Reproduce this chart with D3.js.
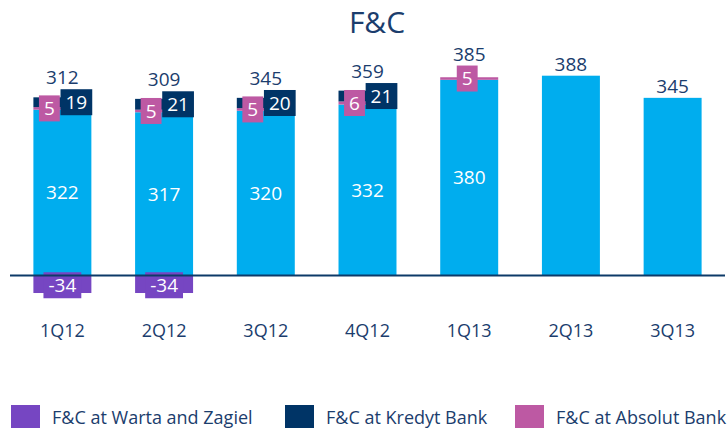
<!DOCTYPE html>
<html>
<head>
<meta charset="utf-8">
<script src="https://cdn.jsdelivr.net/npm/d3@7"></script>
<style>
  html, body { margin: 0; padding: 0; background: #fff; }
  svg { display: block; font-family: "Open Sans", sans-serif; }
</style>
</head>
<body>
<div id="chart"></div>
<script>
// Chart data
const categories = ["1Q12", "2Q12", "3Q12", "4Q12", "1Q13", "2Q13", "3Q13"];
const baseValues = [322, 317, 320, 332, 380, 388, 345];
const absolutValues = [5, 5, 5, 6, 5, 0, 0];
const kredytValues = [19, 21, 20, 21, 0, 0, 0];
const wartaValues = [-34, -34, 0, 0, 0, 0, 0];
const totals = [312, 309, 345, 359, 385, 388, 345];
const legendLabels = ["F&C at Warta and Zagiel", "F&C at Kredyt Bank", "F&C at Absolut Bank"];

const colors = {
    base: "#00adee",
    absolut: "#bd59a3",
    kredyt: "#003466",
    warta: "#7646c2",
    text: "#1b3d6d"
};

const width = 728, height = 428;

const svg = d3.select("#chart").append("svg")
    .attr("width", width)
    .attr("height", height);

const x = d3.scaleBand()
    .domain(categories)
    .range([10, 725])
    .paddingInner(0.43)
    .paddingOuter(0.23);

// zero sits at ~275.5, 388 at ~75.7
const y = d3.scaleLinear()
    .domain([0, 388])
    .range([275.5, 75.7]);

const rows = categories.map((c, i) => ({
    cat: c,
    base: baseValues[i],
    absolut: absolutValues[i],
    kredyt: kredytValues[i],
    warta: wartaValues[i],
    total: totals[i]
}));

// title
svg.append("text")
    .attr("x", 377)
    .attr("y", 33)
    .attr("text-anchor", "middle")
    .style("font-size", "30px")
    .style("fill", colors.text)
    .text("F&C");

const bars = svg.selectAll(".bar")
    .data(rows)
    .enter()
    .append("g")
    .attr("class", "bar")
    .attr("transform", d => `translate(${x(d.cat)},0)`);

const bw = x.bandwidth();

// main bar
bars.append("rect")
    .attr("x", 0)
    .attr("width", bw)
    .attr("y", d => y(d.base))
    .attr("height", d => y(0) - y(d.base))
    .style("fill", colors.base);

// absolut segment
bars.filter(d => d.absolut > 0).append("rect")
    .attr("x", 0)
    .attr("width", bw)
    .attr("y", d => y(d.base + d.absolut))
    .attr("height", d => y(d.base) - y(d.base + d.absolut))
    .style("fill", colors.absolut);

// kredyt segment
bars.filter(d => d.kredyt > 0).append("rect")
    .attr("x", 0)
    .attr("width", bw)
    .attr("y", d => y(d.base + d.absolut + d.kredyt))
    .attr("height", d => y(d.base + d.absolut) - y(d.base + d.absolut + d.kredyt))
    .style("fill", colors.kredyt);

// warta (negative) segment
bars.filter(d => d.warta < 0).append("rect")
    .attr("x", 0)
    .attr("width", bw)
    .attr("y", y(0))
    .attr("height", d => y(d.warta) - y(0))
    .style("fill", colors.warta);

// zero line
svg.append("line")
    .attr("x1", 10)
    .attr("x2", 725)
    .attr("y1", y(0))
    .attr("y2", y(0))
    .style("stroke", "#0d3a68")
    .style("stroke-width", 2);

// value inside main bar (only where the bar is split)
bars.filter(d => d.base !== d.total).append("text")
    .attr("x", bw / 2)
    .attr("y", d => (y(0) + y(d.base)) / 2)
    .attr("dy", "0.35em")
    .attr("text-anchor", "middle")
    .style("font-size", "19px")
    .style("fill", "#fff")
    .text(d => d.base);

// boxed label helper
function boxLabel(sel, cx, cy, txt, fill, h) {
    const g = sel.append("g");
    const t = g.append("text")
        .attr("x", cx)
        .attr("y", cy)
        .attr("dy", "0.35em")
        .attr("text-anchor", "middle")
        .style("font-size", "19px")
        .style("fill", "#fff")
        .text(txt);
    const w = t.node().getComputedTextLength() + 10;
    g.insert("rect", "text")
        .attr("x", cx - w / 2)
        .attr("y", cy - h / 2)
        .attr("width", w)
        .attr("height", h)
        .style("fill", fill);
}

const labelTop = [];
bars.each(function(d, i) {
    const g = d3.select(this);
    let top = y(d.base + d.absolut + d.kredyt);
    if (d.absolut > 0) {
        const cy = (y(d.base) + y(d.base + d.absolut)) / 2;
        const cx = d.kredyt > 0 ? bw / 2 - 13 : bw / 2 - 2;
        boxLabel(g, cx, cy, d.absolut, colors.absolut, 26);
        top = Math.min(top, cy - 13);
    }
    if (d.kredyt > 0) {
        const cy = (y(d.base + d.absolut) + y(d.base + d.absolut + d.kredyt)) / 2;
        boxLabel(g, bw / 2 + 14, cy, d.kredyt, colors.kredyt, 26);
        top = Math.min(top, cy - 13);
    }
    if (d.warta < 0) {
        const cy = (y(0) + y(d.warta)) / 2 + 1;
        boxLabel(g, bw / 2, cy, d.warta, colors.warta, 26);
    }
    labelTop[i] = top;
});

// totals above the stacks
bars.append("text")
    .attr("x", bw / 2)
    .attr("y", (d, i) => labelTop[i] - 5)
    .attr("text-anchor", "middle")
    .style("font-size", "19px")
    .style("fill", colors.text)
    .text(d => d.total);

// category axis labels
svg.append("g")
    .selectAll("text")
    .data(categories)
    .enter()
    .append("text")
    .attr("x", d => x(d) + bw / 2)
    .attr("y", 337)
    .attr("text-anchor", "middle")
    .style("font-size", "18px")
    .style("fill", colors.text)
    .text(d => d);

// legend
const legendColors = [colors.warta, colors.kredyt, colors.absolut];
const legendX = [11, 285, 515];
const legend = svg.selectAll(".legend")
    .data(legendLabels)
    .enter()
    .append("g")
    .attr("class", "legend")
    .attr("transform", (d, i) => `translate(${legendX[i]},405)`);

legend.append("rect")
    .attr("width", 29)
    .attr("height", 23)
    .style("fill", (d, i) => legendColors[i]);

legend.append("text")
    .attr("x", 41)
    .attr("y", 19)
    .style("font-size", "18px")
    .style("fill", colors.text)
    .text(d => d);
</script>
</body>
</html>
